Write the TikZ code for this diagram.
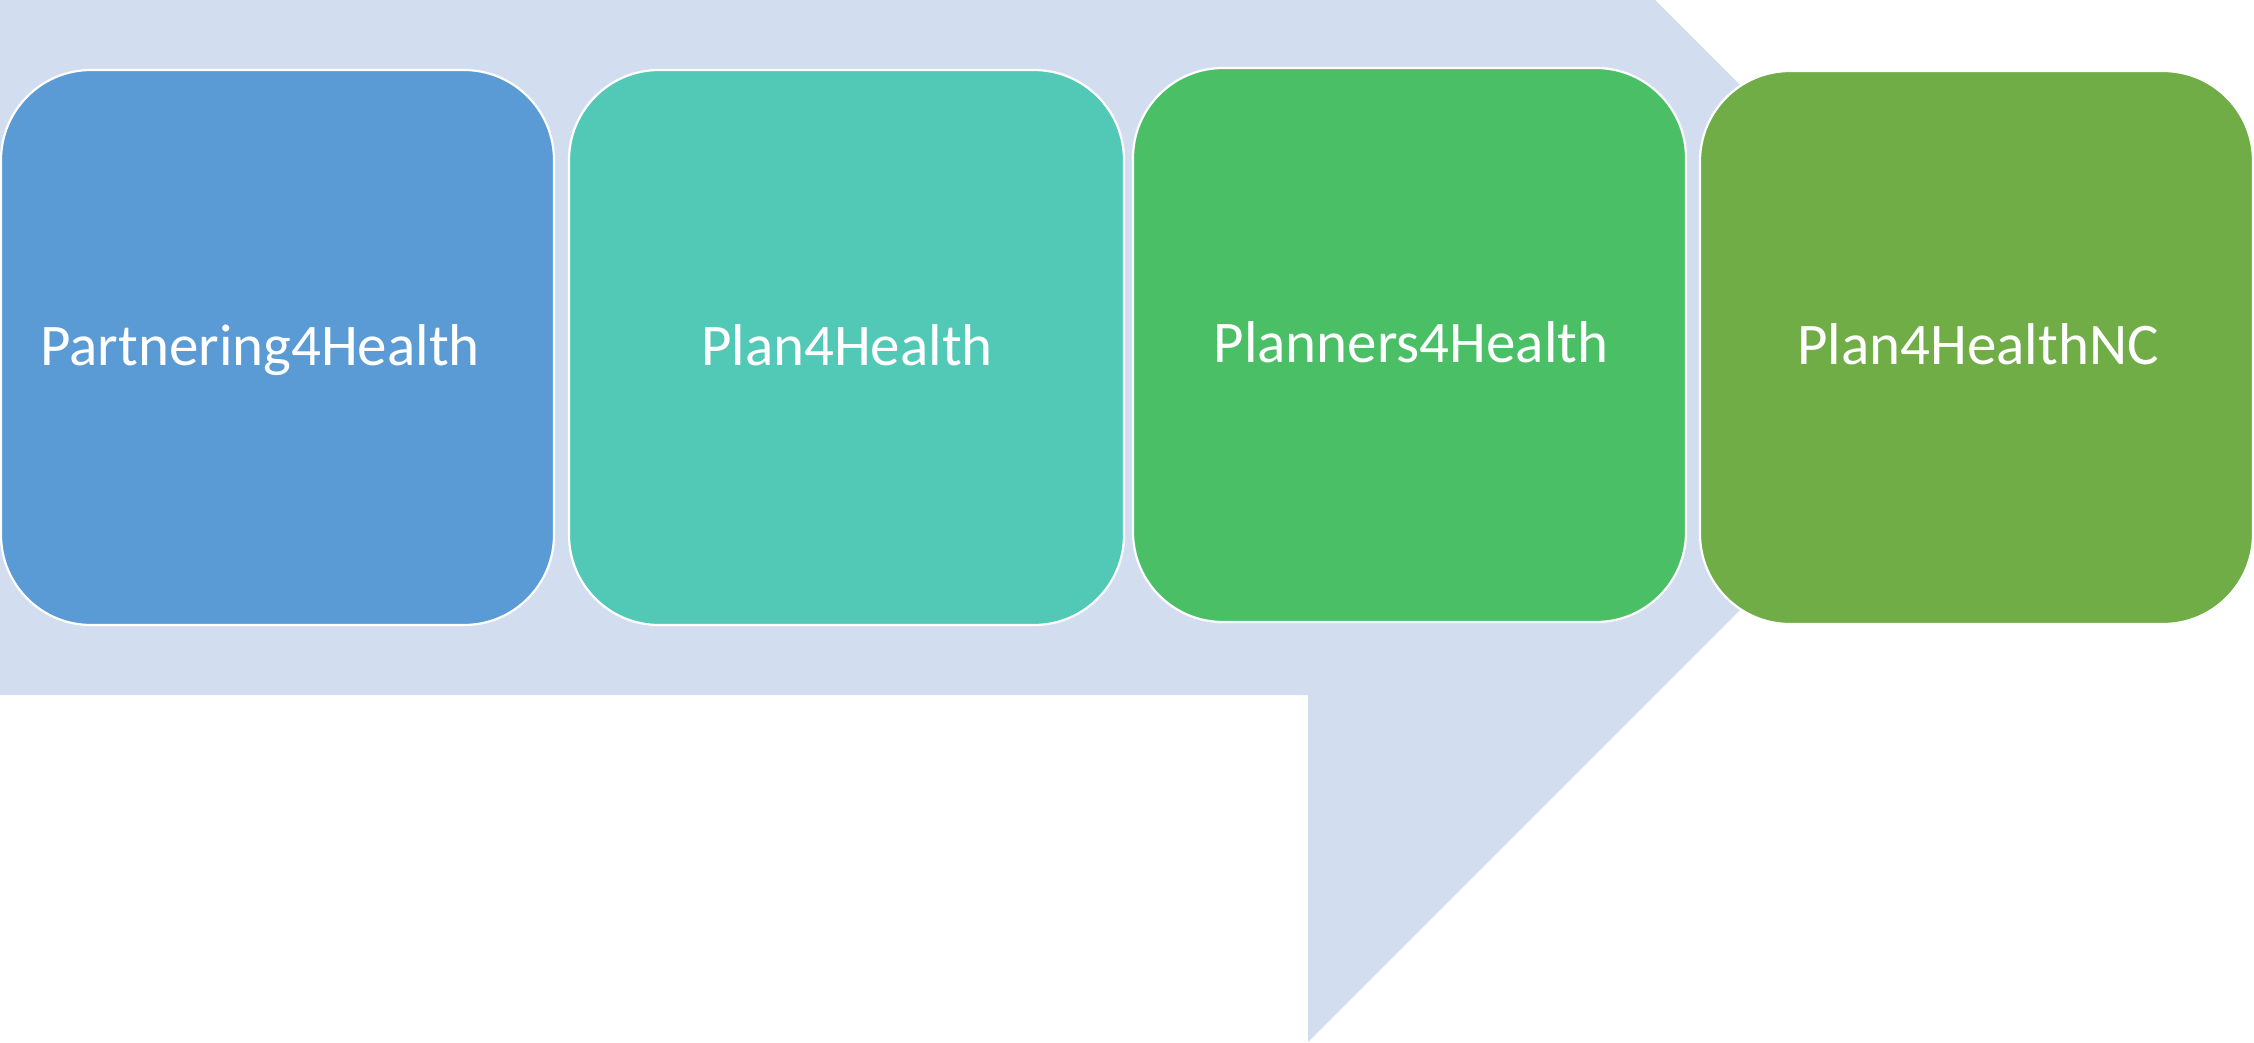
\documentclass[tikz,border=0pt]{standalone}
\usepackage{fontspec}
\setmainfont{Carlito}
\definecolor{bandblue}{HTML}{D2DEEF}
\definecolor{stepA}{HTML}{5B9BD5}
\definecolor{stepB}{HTML}{52C9B6}
\definecolor{stepC}{HTML}{4ABF66}
\definecolor{stepD}{HTML}{70AD47}
\begin{document}
\begin{tikzpicture}[x=1pt,y=-1pt,
  stage/.style={draw=white, line width=2.2pt, rounded corners=90pt},
  stagetext/.style={anchor=base, text=white, inner sep=0pt,
    font=\fontsize{59}{70}\selectfont}]
  \useasboundingbox (0,0) rectangle (2254,1042);
  % bent arrow band behind the stages
  \fill[bandblue] (0,0) -- (1655,0) -- (2002.5,347.5) -- (1308,1042)
    -- (1308,695) -- (0,695) -- cycle;
  % stage boxes
  \draw[stage, fill=stepA] (1,70) rectangle (554,625);
  \draw[stage, fill=stepB] (569,70) rectangle (1124,625);
  \draw[stage, fill=stepC] (1133,68) rectangle (1686,622);
  \draw[stage, fill=stepD] (1700,71) rectangle (2253,624);
  % stage names
  \node[stagetext] (s1) at (260,365) {Partnering4Health};
  \node[stagetext] (s2) at (847,365) {Plan4Health};
  \node[stagetext] (s3) at (1411,362) {Planners4Health};
  \node[stagetext] (s4) at (1978,364) {Plan4HealthNC};
\end{tikzpicture}
\end{document}
